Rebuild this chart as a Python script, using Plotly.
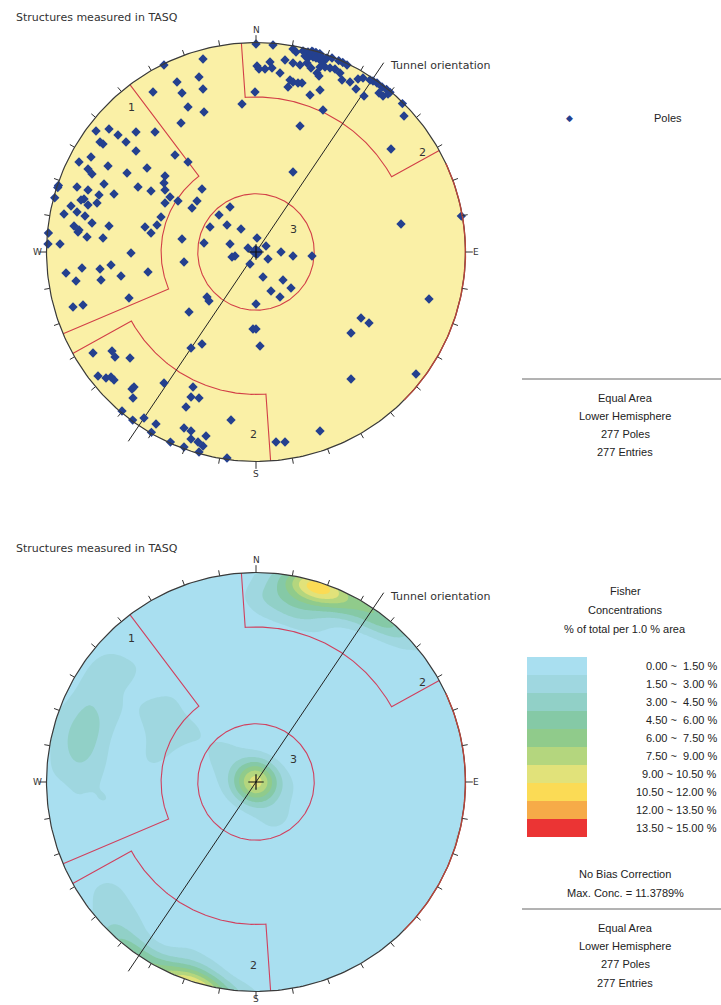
import numpy as np
import plotly.graph_objects as go

W, H = 721, 1005

# ---------------- data ----------------
# Poles digitised from the net: east / north offsets on a net of radius R_NET (equal-area, lower hemisphere)
R_NET = 209.5
pole_east = [
    -93, -53, -79, -57, -103, -74, -53, -68, -52, -14, -75, -160, -147, -138, -120, -101, -156, -153, -130, -120,
    -81, -68, -165, -177, -148, -168, -164, -129, -109, -91, -199, -200, -179, -168, -152, -118, -105, -91, -92, -86,
    -204, -157, -142, -172, -175, -168, -159, -185, -91, -78, -54, -59, -64, -192, -179, -171, -95, -37, -26, -182,
    -177, -178, -164, -147, -111, -99, -105, -46, -29, -15, -208, -208, -196, -169, -153, -74, -52, -26, -24, -21,
    -8, 1, -125, -72, -6, -190, -174, -156, -145, -135, -108, -180, -155, -127, -183, -173, -67, -49, -47, 0,
    37, 10, 25, 37, 56, 12, 7, 27, 35, 15, 24, 0, 17, 37, 40, 47, 52, 56, 60, 64,
    49, 52, 57, 63, 67, 71, 76, 83, 87, 91, 29, 37, 44, 51, 55, 64, 69, 74, 79, 1,
    9, 14, 16, 24, 61, 63, 84, 86, 94, 102, 107, 114, 117, 121, 126, 131, 136, 34, 37, 42,
    46, 32, 54, 64, 100, 108, 123, 127, 132, 147, 148, -1, 3, 67, 44, 135, -3, 0, 4, -54,
    -65, -163, -144, -141, -126, -158, -150, -145, -142, -122, -124, -123, -92, -63, -65, -57, -70, -25, -134, -124,
    -112, -100, -72, -65, -105, -65, -58, -50, -53, -86, -72, -57, -29, 20, 29, 173, 105, 113, 95, 95,
    160, 64, 206, 145,
    # poles hidden by overlap (read from the density peaks): centre cross, then the NE cluster
    0, -1, 1, 0, -2, 2, 0, 1, -1, 0, 2, -2, 0, 1, -1, 0, 1, -1, 2,
    58, 62, 55, 60, 65, 57,
]
pole_north = [
    189, 193, 170, 175, 160, 159, 163, 145, 140, 148, 129, 121, 123, 117, 120, 120, 110, 108, 110, 101,
    97, 90, 95, 90, 86, 83, 78, 79, 84, 76, 67, 65, 65, 62, 68, 65, 61, 62, 69, 55,
    55, 57, 58, 53, 52, 47, 49, 46, 49, 51, 63, 51, 44, 38, 40, 36, 35, 37, 45, 26,
    22, 20, 29, 26, 25, 27, 19, 25, 27, 23, 19, 8, 8, 15, 14, 13, 9, 8, -5, -4,
    4, 14, -1, -10, -12, -21, -16, -17, -13, -24, -20, -29, -28, -46, -55, -53, -60, -45, -49, -52,
    80, 6, 0, -4, -4, -7, -25, -28, -36, -39, -45, 208, 207, 203, 200, 201, 200, 201, 200, 199,
    196, 194, 195, 193, 190, 194, 194, 192, 190, 187, 192, 189, 187, 189, 184, 185, 185, 184, 183, 186,
    183, 190, 184, 179, 179, 176, 179, 172, 170, 173, 174, 172, 171, 169, 165, 163, 162, 172, 170, 169,
    169, 165, 157, 162, 163, 156, 159, 156, 158, 149, 136, 160, 183, 142, 126, 103, -77, -77, -94, -92,
    -96, -101, -99, -105, -106, -124, -126, -125, -128, -135, -137, -146, -131, -135, -145, -146, -155, -168, -159, -169,
    -166, -172, -176, -179, -181, -187, -190, -184, -194, -191, -195, -200, -206, -190, -190, -47, -66, -71, -81, -127,
    -122, -179, 36, 28,
    0, 1, 0, -1, 0, 1, 2, -2, 1, -1, 0, 0, 1, 1, -1, 0, 0, 2, -1,
    196, 197, 198, 194, 196, 200,
]

# Set windows: trend range (deg) and inner radius (fraction of net radius)
window_trend_from = [247, 356, 176]
window_trend_to = [323, 421, 241]
window_inner = [0.453, 0.74, 0.68]
set3_radius = 0.278
set_label = ["1", "2", "2", "3"]
set_label_east = [-125, 166, -3, 37]
set_label_north = [144, 100, -183, 23]

tunnel_trend = 34
red_rim_from, red_rim_to = 65, 135

compass = ["N", "E", "S", "W"]

conc_edges = [0.0, 1.5, 3.0, 4.5, 6.0, 7.5, 9.0, 10.5, 12.0, 13.5, 15.0]
conc_colors = ["#A9DFF0", "#9FD7E0", "#91D0C7", "#85C9A6", "#90CB8B", "#B4D67E",
               "#E1E27A", "#FBDB55", "#F6AB48", "#EB3434"]
fisher_K = 100.0

# ---------------- helpers ----------------
cx_px, R_px = 256, 209.5
cy_top, cy_bot = 252, 782


def px(x):
    return x / W


def py(y):
    return 1 - y / H


def circ(r, a0=0, a1=360, n=361):
    a = np.radians(np.linspace(a0, a1, n))
    return r * np.sin(a), r * np.cos(a)


pe = np.array(pole_east, float) / R_NET
pn = np.array(pole_north, float) / R_NET
rr = np.hypot(pe, pn)
s = np.where(rr > 0.995, 0.995 / np.maximum(rr, 1e-9), 1.0)
pe, pn = pe * s, pn * s


def to_vec(x, y):
    r = np.clip(np.hypot(x, y), 0, 1)
    th = 2 * np.arcsin(r / np.sqrt(2))
    az = np.arctan2(x, y)
    return np.stack([np.sin(th) * np.sin(az), np.sin(th) * np.cos(az), np.cos(th)], -1)


P = to_vec(pe, pn)
gx = np.linspace(-1, 1, 201)
GX, GY = np.meshgrid(gx, gx)
G = to_vec(GX.ravel(), GY.ravel())
c = np.abs(G @ P.T)
K = fisher_K
dens = K * (np.exp(K * (c - 1)) + np.exp(-K * (c + 1))) / (1 - np.exp(-2 * K))
dens = dens.mean(axis=1).reshape(GX.shape)

fig = go.Figure()

panels = [("x", "y", "top"), ("x2", "y2", "bot")]
for xa, ya, which in panels:
    if which == "top":
        x, y = circ(1.0)
        fig.add_trace(go.Scatter(x=x, y=y, xaxis=xa, yaxis=ya, mode="lines", fill="toself",
                                 fillcolor="#FAF0A6", line=dict(width=0), hoverinfo="skip"))
    else:
        scale = []
        for i, col in enumerate(conc_colors):
            lo = 0 if i == 0 else (i + 0.5) / 11
            hi = 1 if i == 9 else (i + 1.5) / 11
            scale += [[lo, col], [hi, col]]
        fig.add_trace(go.Contour(x=gx, y=gx, z=dens, xaxis=xa, yaxis=ya, autocontour=False,
                                 contours=dict(start=0, end=15, size=1.5, coloring="fill", showlines=False),
                                 colorscale=scale, showscale=False, line=dict(width=0, smoothing=1.0),
                                 hoverinfo="skip"))
        # white mask outside primitive
        a = np.radians(np.linspace(225, 585, 361))
        mx = [-1.02, -1.02, 1.02, 1.02, -1.02] + list(np.cos(a)) + [-1.02]
        my = [-1.02, 1.02, 1.02, -1.02, -1.02] + list(np.sin(a)) + [-1.02]
        fig.add_trace(go.Scatter(x=mx, y=my, xaxis=xa, yaxis=ya, mode="lines", fill="toself",
                                 fillcolor="white", line=dict(width=0), hoverinfo="skip"))
    # set windows
    red = "#D23F47" if which == "top" else "#D0405E"
    for t0, t1, ri in zip(window_trend_from, window_trend_to, window_inner):
        ax_, ay_ = circ(ri, t0, t1, 121)
        r0x, r0y = np.sin(np.radians(t0)), np.cos(np.radians(t0))
        r1x, r1y = np.sin(np.radians(t1)), np.cos(np.radians(t1))
        xs = [r0x] + list(ax_) + [r1x]
        ys = [r0y] + list(ay_) + [r1y]
        fig.add_trace(go.Scatter(x=xs, y=ys, xaxis=xa, yaxis=ya, mode="lines",
                                 line=dict(color=red, width=1.1), hoverinfo="skip"))
    x, y = circ(set3_radius)
    fig.add_trace(go.Scatter(x=x, y=y, xaxis=xa, yaxis=ya, mode="lines",
                             line=dict(color=red, width=1.1), hoverinfo="skip"))
    # tunnel line
    ta = np.radians(tunnel_trend)
    L = 1.09
    fig.add_trace(go.Scatter(x=[-L * np.sin(ta), L * np.sin(ta)], y=[-L * np.cos(ta), L * np.cos(ta)],
                             xaxis=xa, yaxis=ya, mode="lines", line=dict(color="#222", width=1),
                             hoverinfo="skip"))
    if which == "top":
        fig.add_trace(go.Scatter(x=pe, y=pn, xaxis=xa, yaxis=ya, mode="markers",
                                 marker=dict(symbol="diamond", size=7.2, color="#24408F", line=dict(width=0)),
                                 hoverinfo="skip"))
    # primitive
    x, y = circ(1.0)
    fig.add_trace(go.Scatter(x=x, y=y, xaxis=xa, yaxis=ya, mode="lines",
                             line=dict(color="#3A3A3A", width=1.2), hoverinfo="skip"))
    x, y = circ(1.0, red_rim_from, red_rim_to, 91)
    fig.add_trace(go.Scatter(x=x, y=y, xaxis=xa, yaxis=ya, mode="lines",
                             line=dict(color="#B8453A", width=1.4), hoverinfo="skip"))
    # ticks
    tx, ty = [], []
    for d in range(0, 360, 10):
        ln = 1.035 if d % 90 == 0 else 1.026
        a = np.radians(d)
        tx += [np.sin(a), ln * np.sin(a), None]
        ty += [np.cos(a), ln * np.cos(a), None]
    fig.add_trace(go.Scatter(x=tx, y=ty, xaxis=xa, yaxis=ya, mode="lines",
                             line=dict(color="#333", width=1), hoverinfo="skip"))
    fig.add_trace(go.Scatter(x=[0], y=[0], xaxis=xa, yaxis=ya, mode="markers",
                             marker=dict(symbol="cross-thin", size=11, line=dict(color="#111", width=1.2)),
                             hoverinfo="skip"))

ann = []


def add_text(x, y, text, font, xref="paper", yref="paper", xanchor="center"):
    ann.append(dict(x=x, y=y, xref=xref, yref=yref, text=text, showarrow=False,
                    xanchor=xanchor, yanchor="middle", font=font))


lab_font = dict(family="DejaVu Sans", size=11, color="#333")
for xa, ya, cyp in [("x", "y", cy_top), ("x2", "y2", cy_bot)]:
    sdist = 1.062 if xa == "x" else 1.036
    pos = {"N": (0, 1.058), "E": (1.05, 0), "S": (0, -sdist), "W": (-1.045, 0)}
    for k in compass:
        add_text(pos[k][0], pos[k][1], k, dict(family="DejaVu Sans", size=9, color="#333"), xa, ya)
    for t, e, n in zip(set_label, set_label_east, set_label_north):
        add_text(e / R_NET, n / R_NET, t, dict(family="DejaVu Sans", size=11, color="#333"), xa, ya)
    add_text((388 - cx_px) / R_px, (252 - 66) / R_px, "Tunnel orientation", lab_font, xa, ya, "left")
    add_text(px(14), py(cyp - 234), "Structures measured in TASQ", lab_font, xanchor="left")

txt_font = dict(family="Liberation Sans", size=11, color="#222")
cxr = px(625)
# top right panel
add_text(px(569), py(118), "\u25C6", dict(family="DejaVu Sans", size=9, color="#24408F"))
add_text(px(668), py(118), "Poles", txt_font)
for t, yy in zip(["Equal Area", "Lower Hemisphere", "277 Poles", "277 Entries"], [398, 416, 434, 452]):
    add_text(cxr, py(yy), t, txt_font)
# bottom right panel
for t, yy in zip(["Fisher", "Concentrations", "% of total per 1.0 % area"], [591, 610, 629]):
    add_text(cxr, py(yy), t, txt_font)
shapes = []
for i, col in enumerate(conc_colors):
    y0 = 657 + 18 * i
    shapes.append(dict(type="rect", xref="paper", yref="paper", x0=px(527), x1=px(587), y0=py(y0), y1=py(y0 + 18),
                       fillcolor=col, line=dict(width=0)))
    lo, hi = conc_edges[i], conc_edges[i + 1]
    lab = f"{lo:.2f} ~ {hi:5.2f} %".replace(" ", "\u00a0")
    add_text(px(719), py(y0 + 9), lab, txt_font, xanchor="right")
for t, yy in zip(["No Bias Correction", "Max. Conc. = 11.3789%"], [874, 893]):
    add_text(cxr, py(yy), t, txt_font)
for t, yy in zip(["Equal Area", "Lower Hemisphere", "277 Poles", "277 Entries"], [928, 946, 964, 983]):
    add_text(cxr, py(yy), t, txt_font)
for yy in [379, 909]:
    shapes.append(dict(type="line", xref="paper", yref="paper", x0=px(522), x1=1, y0=py(yy), y1=py(yy),
                       line=dict(color="#666", width=1)))

xdom = [(cx_px - 1.2 * R_px) / W, (cx_px + 1.2 * R_px) / W]
fig.update_layout(
    width=W, height=H, autosize=False, margin=dict(l=0, r=0, t=0, b=0),
    paper_bgcolor="white", plot_bgcolor="white", showlegend=False,
    xaxis=dict(domain=xdom, range=[-1.2, 1.2], visible=False, anchor="y"),
    yaxis=dict(domain=[1 - (cy_top + 1.2 * R_px) / H, 1 - (cy_top - 1.2 * R_px) / H], range=[-1.2, 1.2],
               visible=False, anchor="x"),
    xaxis2=dict(domain=xdom, range=[-1.2, 1.2], visible=False, anchor="y2"),
    yaxis2=dict(domain=[1 - (cy_bot + 1.06 * R_px) / H, 1 - (cy_bot - 1.2 * R_px) / H], range=[-1.06, 1.2],
                visible=False, anchor="x2"),
    annotations=ann, shapes=shapes,
)
fig.write_html("out.html", config={"displayModeBar": False},
               post_script="document.body.style.margin='0px';")
